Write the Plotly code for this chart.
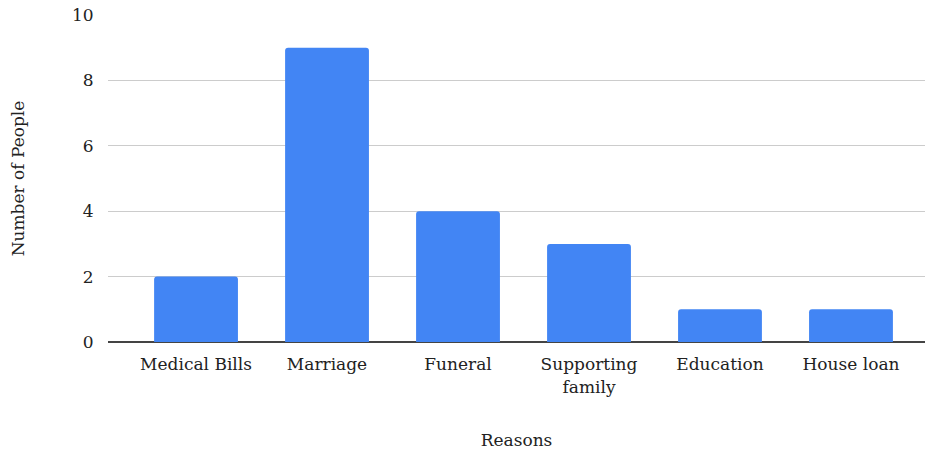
import plotly.graph_objects as go

reasons = ["Medical Bills", "Marriage", "Funeral", "Supporting<br>family", "Education", "House loan"]
people = [2, 9, 4, 3, 1, 1]
y_ticks = [0, 2, 4, 6, 8, 10]

font_family = "DejaVu Serif"
text_color = "#222222"

fig = go.Figure(
    go.Bar(
        x=list(range(len(reasons))),
        y=people,
        width=0.64,
        marker=dict(color="#4285F4", line=dict(width=0)),
        hoverinfo="x+y",
    )
)

fig.update_layout(
    width=930,
    height=453,
    margin=dict(l=108, r=5, t=11, b=111),
    plot_bgcolor="white",
    paper_bgcolor="white",
    barcornerradius=3,
    showlegend=False,
    font=dict(family=font_family, size=17, color=text_color),
    xaxis=dict(
        tickmode="array",
        tickvals=list(range(len(reasons))),
        ticktext=reasons,
        range=[-0.672, 5.565],
        showgrid=False,
        showline=False,
        zeroline=False,
        ticks="outside",
        ticklen=7,
        tickcolor="rgba(0,0,0,0)",
        tickfont=dict(size=17),
        title=dict(text="Reasons", standoff=38, font=dict(size=17)),
    ),
    yaxis=dict(
        range=[0, 10],
        tickmode="array",
        tickvals=y_ticks,
        showgrid=True,
        gridcolor="#cccccc",
        gridwidth=1,
        zeroline=True,
        zerolinecolor="#444444",
        zerolinewidth=1.5,
        showline=False,
        ticks="outside",
        ticklen=10,
        tickcolor="rgba(0,0,0,0)",
        tickfont=dict(size=17),
        title=dict(text="Number of People", standoff=43, font=dict(size=17)),
    ),
)

fig.write_html("out.html")
